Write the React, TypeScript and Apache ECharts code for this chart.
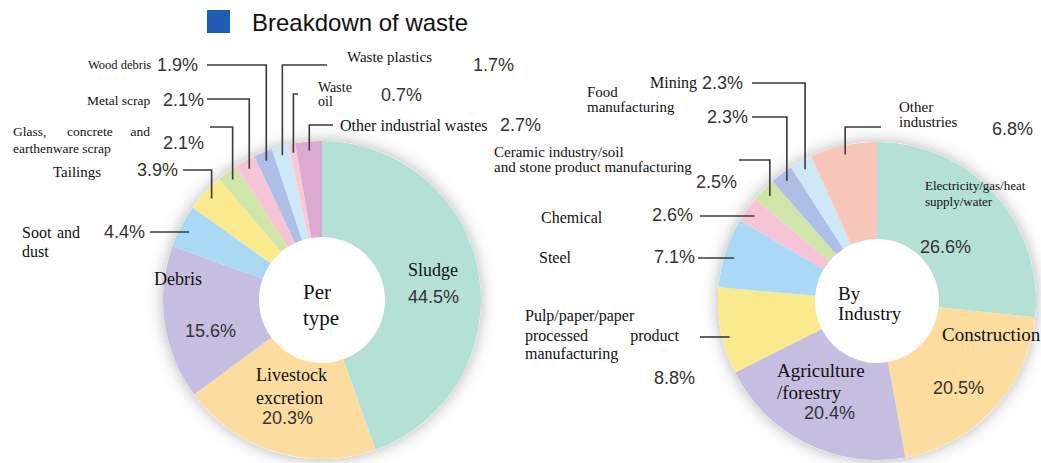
import React, { useEffect, useRef } from "react";
import * as echarts from "echarts";

// ---------- data ----------
const titleText = "Breakdown of waste";

const typeNames = [
  "Sludge",
  "Livestock excretion",
  "Debris",
  "Soot and dust",
  "Tailings",
  "Glass, concrete and earthenware scrap",
  "Metal scrap",
  "Wood debris",
  "Waste plastics",
  "Waste oil",
  "Other industrial wastes",
];
const typeValues = [44.5, 20.3, 15.6, 4.4, 3.9, 2.1, 2.1, 1.9, 1.7, 0.7, 2.7];
const typeColors = [
  "#b4e0d6", "#fddd9f", "#c6bee1", "#a9d9f4", "#fbea8d", "#d0e6a9",
  "#f6c3d7", "#adbfe6", "#cfe8f7", "#f6cbd4", "#dcaad0",
];

const industryNames = [
  "Electricity/gas/heat supply/water",
  "Construction",
  "Agriculture/forestry",
  "Pulp/paper/paper processed product manufacturing",
  "Steel",
  "Chemical",
  "Ceramic industry/soil and stone product manufacturing",
  "Food manufacturing",
  "Mining",
  "Other industries",
];
const industryValues = [26.6, 20.5, 20.4, 8.8, 7.1, 2.6, 2.5, 2.3, 2.3, 6.8];
const industryColors = [
  "#b4e0d6", "#fddd9f", "#c6bee1", "#fbea8d", "#a9d9f4",
  "#f6c3d7", "#d0e6a9", "#adbfe6", "#cfe8f7", "#f8c7ba",
];

const centerTexts = [["Per", "type"], ["By", "Industry"]];

// ---------- layout (positions / sizes only) ----------
const LEFT = { cx: 322, cy: 300, r0: 63, r: 159 };
const RIGHT = { cx: 877, cy: 301, r0: 62, r: 159 };

type Line = { t: string; x: number; y: number; s: number; a?: string };
type Lay = { name: Line[]; pct: { x: number; y: number }; lead?: { x0: number; y: number; vert: boolean } };

const typeLayout: Lay[] = [
  { name: [{ t: "Sludge", x: 408, y: 270, s: 18 }], pct: { x: 408, y: 297 } },
  { name: [{ t: "Livestock", x: 256, y: 375, s: 18 }, { t: "excretion", x: 256, y: 398, s: 18 }], pct: { x: 262, y: 418 } },
  { name: [{ t: "Debris", x: 154, y: 279, s: 18 }], pct: { x: 185, y: 331 } },
  {
    name: [{ t: "Soot", x: 22, y: 232, s: 16 }, { t: "and", x: 80, y: 232, s: 16, a: "right" }, { t: "dust", x: 22, y: 251, s: 16 }],
    pct: { x: 104, y: 232 }, lead: { x0: 150, y: 232, vert: false },
  },
  { name: [{ t: "Tailings", x: 53, y: 172, s: 15 }], pct: { x: 137, y: 170 }, lead: { x0: 183, y: 170, vert: true } },
  {
    name: [
      { t: "Glass,", x: 13, y: 131, s: 13.5 }, { t: "concrete", x: 67, y: 131, s: 13.5 },
      { t: "and", x: 150, y: 131, s: 13.5, a: "right" }, { t: "earthenware scrap", x: 13, y: 148, s: 13.5 },
    ],
    pct: { x: 163, y: 143 }, lead: { x0: 210, y: 127, vert: true },
  },
  { name: [{ t: "Metal scrap", x: 87, y: 100, s: 13.5 }], pct: { x: 163, y: 100 }, lead: { x0: 207, y: 99, vert: true } },
  { name: [{ t: "Wood debris", x: 88, y: 65, s: 12.5 }], pct: { x: 157, y: 65 }, lead: { x0: 207, y: 65, vert: true } },
  { name: [{ t: "Waste plastics", x: 347, y: 57, s: 15 }], pct: { x: 473, y: 65 }, lead: { x0: 327, y: 65, vert: true } },
  { name: [{ t: "Waste", x: 318, y: 87, s: 14 }, { t: "oil", x: 318, y: 101, s: 14 }], pct: { x: 381, y: 95 }, lead: { x0: 298, y: 94, vert: true } },
  { name: [{ t: "Other industrial wastes", x: 340, y: 125, s: 16 }], pct: { x: 500, y: 125 }, lead: { x0: 333, y: 125, vert: true } },
];

const industryLayout: Lay[] = [
  { name: [{ t: "Electricity/gas/heat", x: 925, y: 185, s: 13 }, { t: "supply/water", x: 925, y: 201, s: 13 }], pct: { x: 920, y: 247 } },
  { name: [{ t: "Construction", x: 942, y: 334, s: 19 }], pct: { x: 933, y: 388 } },
  { name: [{ t: "Agriculture", x: 777, y: 370, s: 19 }, { t: "/forestry", x: 777, y: 392, s: 19 }], pct: { x: 804, y: 413 } },
  {
    name: [
      { t: "Pulp/paper/paper", x: 525, y: 315, s: 16 }, { t: "processed", x: 525, y: 335, s: 16 },
      { t: "product", x: 679, y: 335, s: 16, a: "right" }, { t: "manufacturing", x: 525, y: 353, s: 16 },
    ],
    pct: { x: 654, y: 378 }, lead: { x0: 700, y: 337, vert: false },
  },
  { name: [{ t: "Steel", x: 539, y: 257, s: 16 }], pct: { x: 654, y: 257 }, lead: { x0: 698, y: 258, vert: false } },
  { name: [{ t: "Chemical", x: 541, y: 217, s: 16 }], pct: { x: 652, y: 215 }, lead: { x0: 700, y: 216, vert: false } },
  {
    name: [
      { t: "Ceramic industry/soil", x: 494, y: 152, s: 15 },
      { t: "and stone product manufacturing", x: 494, y: 167, s: 15 },
    ],
    pct: { x: 696, y: 182 }, lead: { x0: 739, y: 160, vert: true },
  },
  { name: [{ t: "Food", x: 587, y: 92, s: 15 }, { t: "manufacturing", x: 587, y: 107, s: 15 }], pct: { x: 707, y: 117 }, lead: { x0: 752, y: 117, vert: true } },
  { name: [{ t: "Mining", x: 650, y: 82, s: 16 }], pct: { x: 702, y: 83 }, lead: { x0: 752, y: 83, vert: true } },
  { name: [{ t: "Other", x: 899, y: 107, s: 15 }, { t: "industries", x: 899, y: 122, s: 15 }], pct: { x: 992, y: 129 }, lead: { x0: 881, y: 127, vert: true } },
];

const SERIF = '"Liberation Serif", "Times New Roman", serif';
const SANS = '"Liberation Sans", Arial, Helvetica, sans-serif';

function slicePoint(values: number[], i: number, c: { cx: number; cy: number }, rad: number) {
  const total = values.reduce((a, b) => a + b, 0);
  let cum = 0;
  for (let k = 0; k < i; k++) cum += values[k];
  const ang = ((cum + values[i] / 2) / total) * Math.PI * 2;
  return [c.cx + rad * Math.sin(ang), c.cy - rad * Math.cos(ang)];
}

function text(t: string, x: number, y: number, size: number, family: string, fill: string, align = "left") {
  return {
    type: "text",
    z: 100,
    x,
    y,
    silent: true,
    style: {
      text: t,
      fontSize: size,
      fontFamily: family,
      fill,
      align,
      textAlign: align,
      verticalAlign: "middle",
      textVerticalAlign: "middle",
    },
  };
}

function buildAnnotations(values: number[], layout: Lay[], c: { cx: number; cy: number }) {
  const els: any[] = [];
  layout.forEach((lay, i) => {
    lay.name.forEach((n) => els.push(text(n.t, n.x, n.y, n.s, SERIF, "#111", n.a || "left")));
    els.push(text(values[i].toFixed(1) + "%", lay.pct.x, lay.pct.y, 18, SANS, "#333"));
    if (lay.lead) {
      const [px, py] = slicePoint(values, i, c, 150);
      const pts = lay.lead.vert
        ? [[lay.lead.x0, lay.lead.y], [px, lay.lead.y], [px, py]]
        : [[lay.lead.x0, lay.lead.y], [px, lay.lead.y]];
      els.push({
        type: "polyline",
        z: 100,
        silent: true,
        shape: { points: pts },
        style: { stroke: "#3a3a3a", lineWidth: 1.6, fill: null },
      });
    }
  });
  return els;
}

function pieSeries(names: string[], values: number[], colors: string[], c: { cx: number; cy: number; r0: number; r: number }) {
  return {
    type: "pie",
    center: [c.cx, c.cy],
    radius: [c.r0, c.r],
    startAngle: 90,
    clockwise: true,
    silent: true,
    z: 2,
    label: { show: false },
    labelLine: { show: false },
    emphasis: { disabled: true },
    itemStyle: { borderWidth: 0 },
    data: names.map((n, i) => ({ name: n, value: values[i], itemStyle: { color: colors[i] } })),
  };
}

export default function App() {
  const ref = useRef<HTMLDivElement>(null);
  useEffect(() => {
    if (!ref.current) return;
    const chart = echarts.init(ref.current, null, { renderer: "svg" });
    const graphics: any[] = [
      { type: "rect", z: 100, shape: { x: 207, y: 10, width: 23, height: 23 }, style: { fill: "#1d5cb0" } },
      text(titleText, 252, 22, 24, SANS, "#111"),
      { type: "circle", z: 0, shape: { cx: LEFT.cx, cy: LEFT.cy, r: LEFT.r }, style: { fill: "#fff", shadowBlur: 16, shadowColor: "rgba(0,0,0,0.3)" } },
      { type: "circle", z: 0, shape: { cx: RIGHT.cx, cy: RIGHT.cy, r: RIGHT.r }, style: { fill: "#fff", shadowBlur: 16, shadowColor: "rgba(0,0,0,0.3)" } },
      text(centerTexts[0][0], 303, 292, 21, SERIF, "#111"),
      text(centerTexts[0][1], 303, 318, 21, SERIF, "#111"),
      text(centerTexts[1][0], 838, 293, 19, SERIF, "#111"),
      text(centerTexts[1][1], 838, 313, 19, SERIF, "#111"),
      ...buildAnnotations(typeValues, typeLayout, LEFT),
      ...buildAnnotations(industryValues, industryLayout, RIGHT),
    ];
    chart.setOption({
      animation: false,
      backgroundColor: "#fff",
      series: [
        pieSeries(typeNames, typeValues, typeColors, LEFT),
        pieSeries(industryNames, industryValues, industryColors, RIGHT),
      ],
      graphic: { elements: graphics },
    });
    return () => chart.dispose();
  }, []);
  return <div ref={ref} style={{ position: "absolute", left: 0, top: 0, width: 1041, height: 463 }} />;
}
